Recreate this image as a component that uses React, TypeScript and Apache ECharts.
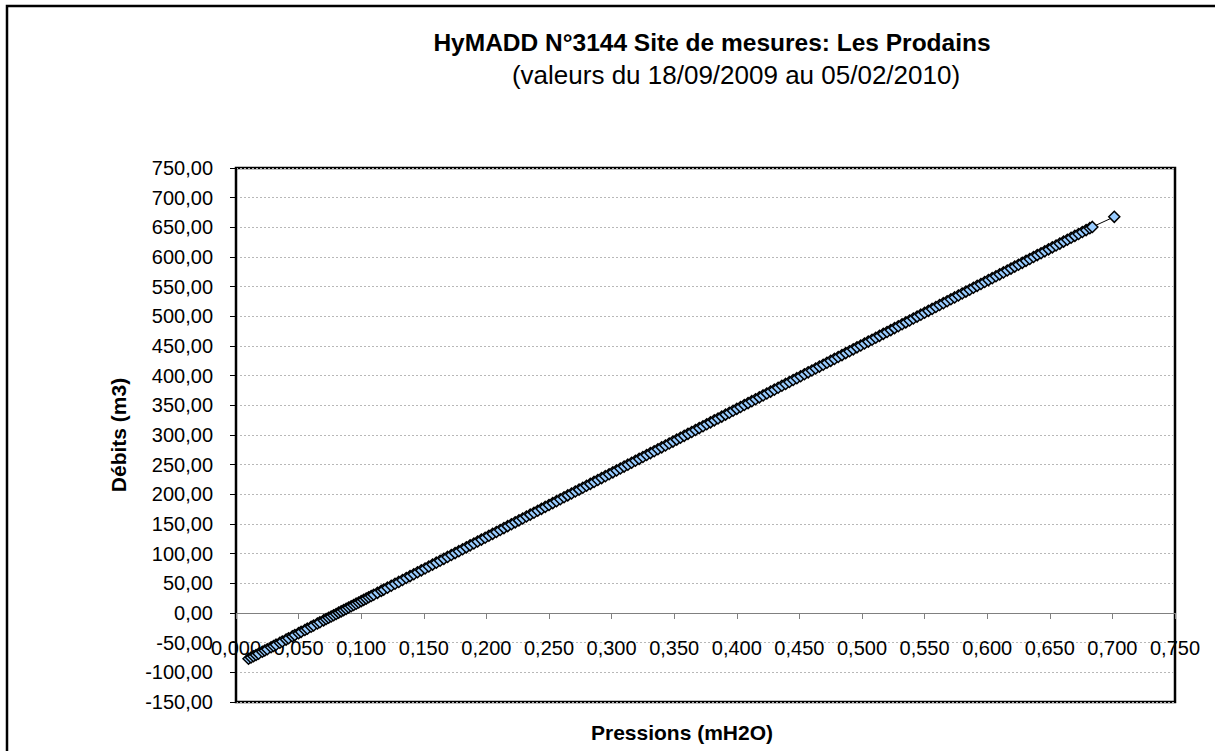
import React, { useEffect, useRef } from "react";
import * as echarts from "echarts";

const titleText = "HyMADD N°3144 Site de mesures: Les Prodains";
const subtitleText = "(valeurs du 18/09/2009 au 05/02/2010)";
const xAxisTitle = "Pressions (mH2O)";
const yAxisTitle = "Débits (m3)";

// Pressions (mH2O)
const pressions = [
  0.010, 0.012, 0.014, 0.016, 0.018, 0.021, 0.023, 0.025, 0.028, 0.030,
  0.032, 0.035, 0.037, 0.040, 0.042, 0.045, 0.047, 0.050, 0.052, 0.055,
  0.057, 0.060, 0.062, 0.065, 0.067, 0.070, 0.072, 0.074, 0.076, 0.078,
  0.080, 0.082, 0.084, 0.086, 0.088, 0.090, 0.092, 0.094, 0.096, 0.098,
  0.100, 0.102, 0.104, 0.106, 0.108, 0.110, 0.113, 0.116, 0.118, 0.121,
  0.124, 0.127, 0.130, 0.133, 0.136, 0.139, 0.142, 0.145, 0.148, 0.151,
  0.154, 0.157, 0.160, 0.163, 0.166, 0.169, 0.172, 0.175, 0.178, 0.181,
  0.184, 0.187, 0.190, 0.193, 0.196, 0.199, 0.202, 0.205, 0.208, 0.211,
  0.214, 0.217, 0.220, 0.223, 0.226, 0.229, 0.232, 0.235, 0.238, 0.241,
  0.244, 0.247, 0.250, 0.253, 0.256, 0.259, 0.262, 0.265, 0.268, 0.271,
  0.274, 0.277, 0.280, 0.283, 0.286, 0.289, 0.292, 0.295, 0.298, 0.301,
  0.304, 0.307, 0.310, 0.313, 0.316, 0.319, 0.322, 0.325, 0.328, 0.331,
  0.334, 0.337, 0.340, 0.343, 0.346, 0.349, 0.352, 0.355, 0.358, 0.361,
  0.364, 0.367, 0.370, 0.373, 0.376, 0.379, 0.382, 0.385, 0.388, 0.391,
  0.394, 0.397, 0.400, 0.403, 0.406, 0.409, 0.412, 0.415, 0.418, 0.421,
  0.424, 0.427, 0.430, 0.433, 0.436, 0.439, 0.442, 0.445, 0.448, 0.451,
  0.454, 0.457, 0.460, 0.463, 0.466, 0.469, 0.472, 0.475, 0.478, 0.481,
  0.484, 0.487, 0.490, 0.493, 0.496, 0.499, 0.502, 0.505, 0.508, 0.511,
  0.514, 0.517, 0.520, 0.523, 0.526, 0.529, 0.532, 0.535, 0.538, 0.541,
  0.544, 0.547, 0.550, 0.553, 0.556, 0.559, 0.562, 0.565, 0.568, 0.571,
  0.574, 0.577, 0.580, 0.583, 0.586, 0.589, 0.592, 0.595, 0.598, 0.601,
  0.604, 0.607, 0.610, 0.613, 0.616, 0.619, 0.622, 0.625, 0.628, 0.631,
  0.634, 0.637, 0.640, 0.643, 0.646, 0.649, 0.652, 0.655, 0.658, 0.661,
  0.664, 0.667, 0.670, 0.673, 0.676, 0.679, 0.682, 0.684, 0.7015,
];

// Débits (m3)
const debits = [
  -77.2, -75.0, -72.9, -70.7, -68.6, -65.3, -63.2, -61.0, -57.8, -55.6,
  -53.4, -50.2, -48.0, -44.8, -42.6, -39.4, -37.2, -34.0, -31.8, -28.6,
  -26.4, -23.2, -21.0, -17.8, -15.6, -12.4, -10.2, -8.1, -5.9, -3.8,
  -1.6, 0.6, 2.7, 4.9, 7.0, 9.2, 11.4, 13.5, 15.7, 17.8,
  20.0, 22.2, 24.3, 26.5, 28.6, 30.8, 34.0, 37.3, 39.4, 42.7,
  45.9, 49.2, 52.4, 55.6, 58.9, 62.1, 65.4, 68.6, 71.8, 75.1,
  78.3, 81.6, 84.8, 88.0, 91.3, 94.5, 97.8, 101.0, 104.2, 107.5,
  110.7, 114.0, 117.2, 120.4, 123.7, 126.9, 130.2, 133.4, 136.6, 139.9,
  143.1, 146.4, 149.6, 152.8, 156.1, 159.3, 162.6, 165.8, 169.0, 172.3,
  175.5, 178.8, 182.0, 185.2, 188.5, 191.7, 195.0, 198.2, 201.4, 204.7,
  207.9, 211.2, 214.4, 217.6, 220.9, 224.1, 227.4, 230.6, 233.8, 237.1,
  240.3, 243.6, 246.8, 250.0, 253.3, 256.5, 259.8, 263.0, 266.2, 269.5,
  272.7, 276.0, 279.2, 282.4, 285.7, 288.9, 292.2, 295.4, 298.6, 301.9,
  305.1, 308.4, 311.6, 314.8, 318.1, 321.3, 324.6, 327.8, 331.0, 334.3,
  337.5, 340.8, 344.0, 347.2, 350.5, 353.7, 357.0, 360.2, 363.4, 366.7,
  369.9, 373.2, 376.4, 379.6, 382.9, 386.1, 389.4, 392.6, 395.8, 399.1,
  402.3, 405.6, 408.8, 412.0, 415.3, 418.5, 421.8, 425.0, 428.2, 431.5,
  434.7, 438.0, 441.2, 444.4, 447.7, 450.9, 454.2, 457.4, 460.6, 463.9,
  467.1, 470.4, 473.6, 476.8, 480.1, 483.3, 486.6, 489.8, 493.0, 496.3,
  499.5, 502.8, 506.0, 509.2, 512.5, 515.7, 519.0, 522.2, 525.4, 528.7,
  531.9, 535.2, 538.4, 541.6, 544.9, 548.1, 551.4, 554.6, 557.8, 561.1,
  564.3, 567.6, 570.8, 574.0, 577.3, 580.5, 583.8, 587.0, 590.2, 593.5,
  596.7, 600.0, 603.2, 606.4, 609.7, 612.9, 616.2, 619.4, 622.6, 625.9,
  629.1, 632.4, 635.6, 638.8, 642.1, 645.3, 648.6, 650.7, 667.7,
];

const FONT = "'Liberation Sans', Arial, sans-serif";

export default function App() {
  const ref = useRef<HTMLDivElement>(null);

  useEffect(() => {
    if (!ref.current) return;
    const chart = echarts.init(ref.current, null, { renderer: "svg" });
    const data = pressions.map((x, i) => [x, debits[i]]);
    chart.setOption({
      animation: false,
      backgroundColor: "#ffffff",
      textStyle: { fontFamily: FONT },
      title: [
        {
          text: titleText,
          left: 707,
          top: 25,
          textAlign: "center",
          textStyle: { fontFamily: FONT, fontSize: 24.5, fontWeight: "bold", color: "#000" },
        },
        {
          text: subtitleText,
          left: 731,
          top: 57,
          textAlign: "center",
          textStyle: { fontFamily: FONT, fontSize: 26, fontWeight: "normal", color: "#000" },
        },
      ],
      grid: {
        left: 236,
        top: 168,
        right: 40,
        bottom: 49,
        show: true,
        borderColor: "#000",
        borderWidth: 2.5,
        backgroundColor: "transparent",
      },
      xAxis: {
        type: "value",
        position: "bottom",
        offset: -89,
        min: 0,
        max: 0.75,
        interval: 0.05,
        axisLine: { show: true, onZero: false, lineStyle: { color: "#808080", width: 1 } },
        axisTick: { show: true, inside: false, length: 6, lineStyle: { color: "#808080" } },
        axisLabel: {
          fontFamily: FONT,
          fontSize: 20,
          color: "#000",
          margin: 25,
          formatter: (v: number) => v.toFixed(3).replace(".", ","),
        },
        splitLine: { show: false },
      },
      yAxis: {
        type: "value",
        min: -150,
        max: 750,
        interval: 50,
        axisLine: { show: true, lineStyle: { color: "#000", width: 2 } },
        axisTick: { show: true, inside: false, length: 6, lineStyle: { color: "#000" } },
        axisLabel: {
          fontFamily: FONT,
          fontSize: 20,
          color: "#000",
          margin: 23,
          formatter: (v: number) => v.toFixed(2).replace(".", ","),
        },
        splitLine: { show: true, lineStyle: { color: "#b8b8b8", width: 1, type: [2, 2] } },
      },
      series: [
        {
          type: "line",
          data,
          symbol: "diamond",
          symbolSize: 11,
          showAllSymbol: true,
          lineStyle: { color: "#000", width: 1 },
          itemStyle: { color: "#99ccff", borderColor: "#000", borderWidth: 1.5 },
          z: 5,
        },
      ],
      graphic: [
        {
          type: "rect",
          shape: { x: 7, y: 6, width: 1300, height: 900 },
          style: { fill: "none", stroke: "#000", lineWidth: 2.5 },
          z: 10,
        },
        {
          type: "text",
          x: 682,
          y: 732,
          style: {
            text: xAxisTitle,
            fontFamily: FONT,
            fontSize: 21,
            fontWeight: "bold",
            fill: "#000",
            textAlign: "center",
            textVerticalAlign: "middle",
          },
        },
        {
          type: "text",
          x: 118,
          y: 435,
          rotation: Math.PI / 2,
          style: {
            text: yAxisTitle,
            fontFamily: FONT,
            fontSize: 21,
            fontWeight: "bold",
            fill: "#000",
            textAlign: "center",
            textVerticalAlign: "middle",
          },
        },
      ],
    });
    return () => chart.dispose();
  }, []);

  return (
    <div
      ref={ref}
      style={{ position: "absolute", left: 0, top: 0, width: 1215, height: 751 }}
    />
  );
}
